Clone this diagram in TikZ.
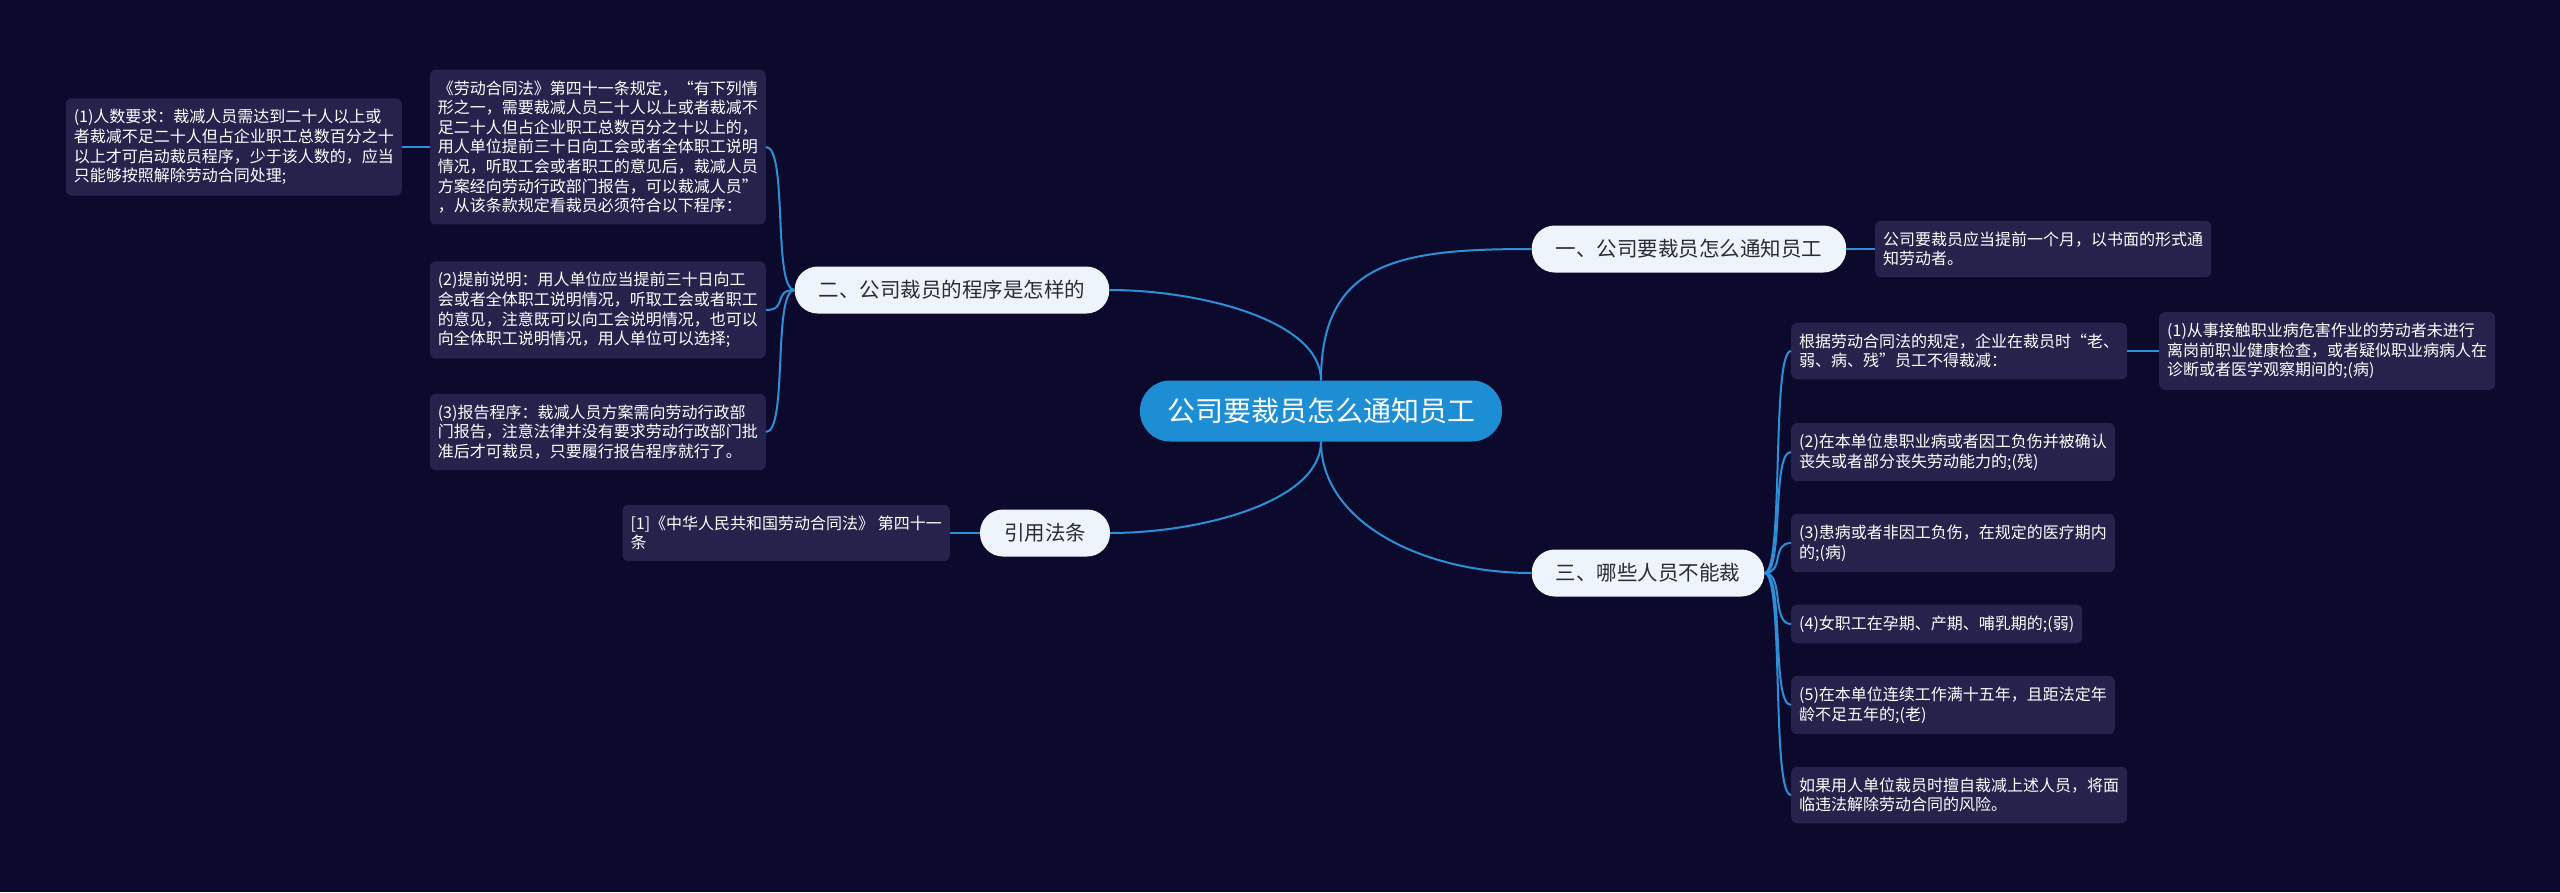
\documentclass[tikz,border=0pt]{standalone}
\usepackage{fontspec}
\setmainfont{Noto Sans CJK SC}
\definecolor{bgnavy}{HTML}{0C0A2C}
\definecolor{rootblue}{HTML}{1E8ED4}
\definecolor{branchfill}{HTML}{EEF4FC}
\definecolor{branchtext}{HTML}{2B2B33}
\definecolor{leaffill}{HTML}{25224B}
\definecolor{linkblue}{HTML}{2C8FD8}
\begin{document}
\begin{tikzpicture}[x=1pt,y=-1pt,
  rootbox/.style={fill=rootblue, text=white, rounded corners=30pt, minimum height=61pt, inner xsep=27pt, font=\fontsize{28}{32}\selectfont},
  branchbox/.style={fill=branchfill, text=branchtext, rounded corners=23pt, minimum height=47pt, inner xsep=24pt, font=\fontsize{20.5}{24}\selectfont},
  leafbox/.style={fill=leaffill, text=white, rounded corners=6pt, align=left, inner xsep=8pt, inner ysep=11pt, font=\fontsize{16}{19.6}\selectfont},
  link/.style={draw=linkblue, line width=2pt}]
\fill[bgnavy] (0,0) rectangle (2560,892);
% centre and main branches
\node[rootbox] (root) at (1321,411) {公司要裁员怎么通知员工};
\node[branchbox] (b1) at (1689,249) {一、公司要裁员怎么通知员工};
\node[branchbox] (b2) at (952,290) {二、公司裁员的程序是怎样的};
\node[branchbox] (b3) at (1648,573) {三、哪些人员不能裁};
\node[branchbox] (cite) at (1045,533) {引用法条};
\draw[link] (root.north) .. controls +(0,-120) and +(-130,0) .. (b1.west);
\draw[link] (root.north) .. controls +(0,-60) and +(90,0) .. (b2.east);
\draw[link] (root.south) .. controls +(0,60) and +(90,0) .. (cite.east);
\draw[link] (root.south) .. controls +(0,80) and +(-110,0) .. (b3.west);
% branch one
\node[leafbox, anchor=west] (l1) at (1875,249) {公司要裁员应当提前一个月，以书面的形式通\\知劳动者。};
\draw[link] (b1.east) -- (l1.west);
% branch two
\node[leafbox, anchor=east] (n1) at (766,147) {《劳动合同法》第四十一条规定，“有下列情\\形之一，需要裁减人员二十人以上或者裁减不\\足二十人但占企业职工总数百分之十以上的，\\用人单位提前三十日向工会或者全体职工说明\\情况，听取工会或者职工的意见后，裁减人员\\方案经向劳动行政部门报告，可以裁减人员”\\，从该条款规定看裁员必须符合以下程序：};
\node[leafbox, anchor=east] (n11) at (402,147) {(1)人数要求：裁减人员需达到二十人以上或\\者裁减不足二十人但占企业职工总数百分之十\\以上才可启动裁员程序，少于该人数的，应当\\只能够按照解除劳动合同处理;};
\node[leafbox, anchor=east] (n2) at (766,310) {(2)提前说明：用人单位应当提前三十日向工\\会或者全体职工说明情况，听取工会或者职工\\的意见，注意既可以向工会说明情况，也可以\\向全体职工说明情况，用人单位可以选择;};
\node[leafbox, anchor=east] (n3) at (766,432) {(3)报告程序：裁减人员方案需向劳动行政部\\门报告，注意法律并没有要求劳动行政部门批\\准后才可裁员，只要履行报告程序就行了。};
\draw[link] (b2.west) .. controls +(-22,0) and +(22,0) .. (n1.east);
\draw[link] (b2.west) .. controls +(-22,0) and +(22,0) .. (n2.east);
\draw[link] (b2.west) .. controls +(-22,0) and +(22,0) .. (n3.east);
\draw[link] (n1.west) -- (n11.east);
% citation
\node[leafbox, anchor=east] (c1) at (950,533) {[1]《中华人民共和国劳动合同法》 第四十一\\条};
\draw[link] (cite.west) -- (c1.east);
% branch three
\node[leafbox, anchor=west] (m0) at (1791,351) {根据劳动合同法的规定，企业在裁员时“老、\\弱、病、残”员工不得裁减：};
\node[leafbox, anchor=west] (m01) at (2159,351) {(1)从事接触职业病危害作业的劳动者未进行\\离岗前职业健康检查，或者疑似职业病病人在\\诊断或者医学观察期间的;(病)};
\node[leafbox, anchor=west] (m2) at (1791,452) {(2)在本单位患职业病或者因工负伤并被确认\\丧失或者部分丧失劳动能力的;(残)};
\node[leafbox, anchor=west] (m3) at (1791,543) {(3)患病或者非因工负伤，在规定的医疗期内\\的;(病)};
\node[leafbox, anchor=west] (m4) at (1791,624) {(4)女职工在孕期、产期、哺乳期的;(弱)};
\node[leafbox, anchor=west] (m5) at (1791,705) {(5)在本单位连续工作满十五年，且距法定年\\龄不足五年的;(老)};
\node[leafbox, anchor=west] (m6) at (1791,795) {如果用人单位裁员时擅自裁减上述人员，将面\\临违法解除劳动合同的风险。};
\draw[link] (b3.east) .. controls +(20,0) and +(-20,0) .. (m0.west);
\draw[link] (b3.east) .. controls +(20,0) and +(-20,0) .. (m2.west);
\draw[link] (b3.east) .. controls +(20,0) and +(-20,0) .. (m3.west);
\draw[link] (b3.east) .. controls +(20,0) and +(-20,0) .. (m4.west);
\draw[link] (b3.east) .. controls +(20,0) and +(-20,0) .. (m5.west);
\draw[link] (b3.east) .. controls +(20,0) and +(-20,0) .. (m6.west);
\draw[link] (m0.east) -- (m01.west);
\end{tikzpicture}
\end{document}
